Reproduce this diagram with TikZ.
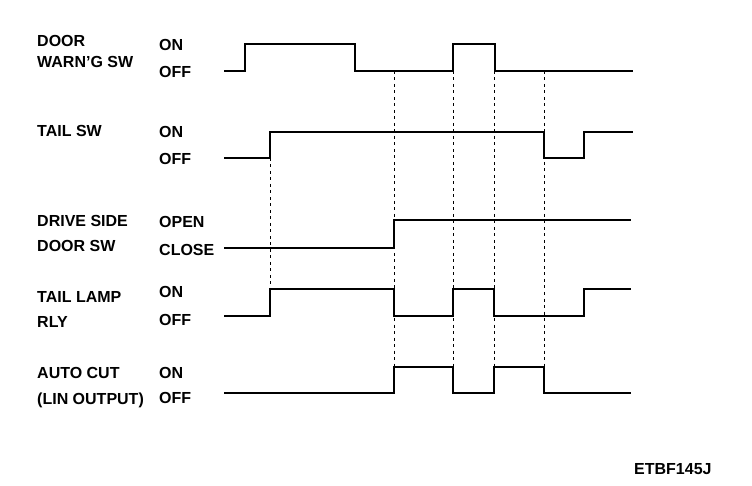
\documentclass[tikz,border=0pt]{standalone}
\usepackage{fontspec}
\setmainfont{Liberation Sans}
\tikzstyle{sigtext} = [anchor=base west, inner sep=0pt, font=\fontsize{16}{19}\bfseries\selectfont]
\tikzstyle{wave} = [draw, line width=2.4pt, line join=miter]
\tikzstyle{guide} = [draw, line width=0.7pt, dash pattern=on 3pt off 3.5pt]

\begin{document}
\begin{tikzpicture}[x=1pt,y=-1pt]
  \useasboundingbox (0,0) rectangle (752,486);
  % signal names
  \node [sigtext] (doorwarn) at (37,47) {DOOR};
  \node [sigtext] (doorwarnb) at (37,68) {WARN'G SW};
  \node [sigtext] (tailsw) at (37,137) {TAIL SW};
  \node [sigtext] (driveside) at (37,227) {DRIVE SIDE};
  \node [sigtext] (drivesideb) at (37,252) {DOOR SW};
  \node [sigtext] (taillamp) at (37,302) {TAIL LAMP};
  \node [sigtext] (taillampb) at (37,327) {RLY};
  \node [sigtext] (autocut) at (37,378) {AUTO CUT};
  \node [sigtext] (autocutb) at (37,404) {(LIN OUTPUT)};
  % states
  \node [sigtext] (doorwarnon) at (159,51) {ON};
  \node [sigtext] (doorwarnoff) at (159,78) {OFF};
  \node [sigtext] (tailswon) at (159,138) {ON};
  \node [sigtext] (tailswoff) at (159,165) {OFF};
  \node [sigtext] (drivesideopen) at (159,228) {OPEN};
  \node [sigtext] (drivesideclose) at (159,256) {CLOSE};
  \node [sigtext] (taillampon) at (159,298) {ON};
  \node [sigtext] (taillampoff) at (159,325) {OFF};
  \node [sigtext] (autocuton) at (159,378) {ON};
  \node [sigtext] (autocutoff) at (159,403) {OFF};
  \node [sigtext] (figcode) at (634,474) {ETBF145J};
  % guides
  \foreach \x/\ytop/\ybot in {270/158/289, 394/71/367, 453/71/367, 494/71/367, 544/71/367}
    \path [guide] (\x,\ytop) -- (\x,\ybot);
  % waves
  \path [wave] (224,71) -- (245,71) -- (245,44) -- (355,44) -- (355,71) -- (453,71)
    -- (453,44) -- (495,44) -- (495,71) -- (633,71);
  \path [wave] (224,158) -- (270,158) -- (270,132) -- (544,132) -- (544,158) -- (584,158)
    -- (584,132) -- (633,132);
  \path [wave] (224,248) -- (394,248) -- (394,220) -- (631,220);
  \path [wave] (224,316) -- (270,316) -- (270,289) -- (394,289) -- (394,316) -- (453,316)
    -- (453,289) -- (494,289) -- (494,316) -- (584,316) -- (584,289) -- (631,289);
  \path [wave] (224,393) -- (394,393) -- (394,367) -- (453,367) -- (453,393) -- (494,393)
    -- (494,367) -- (544,367) -- (544,393) -- (631,393);
\end{tikzpicture}
\end{document}
